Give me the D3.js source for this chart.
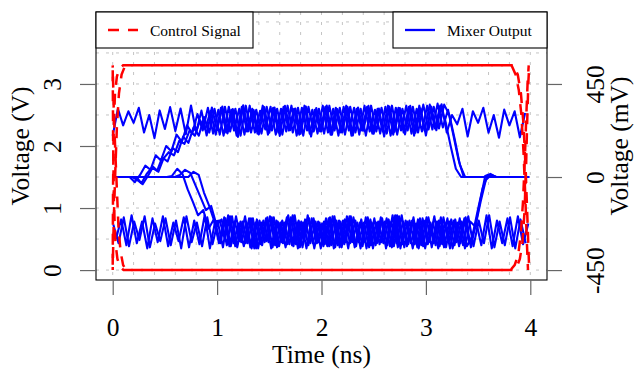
<!DOCTYPE html>
<html>
<head>
<meta charset="utf-8">
<script src="https://cdn.jsdelivr.net/npm/d3@7/dist/d3.min.js"></script>
<style>
  body { margin: 0; background: #fff; }
  svg { display: block; font-family: "Liberation Serif", "Times New Roman", serif; }
</style>
</head>
<body>
<svg id="chart" width="635" height="369"></svg>
<script>
// ---- axis ticks -------------------------------------------------------------
const timeTicks = [0, 1, 2, 3, 4];          // ns
const voltTicks = [0, 1, 2, 3];             // V (control signal)
const mvTicks = [-450, 0, 450];             // mV (mixer output)

// ---- control signal traces (time in ns, level in V) ----------------------------
const controlHighTimes1 = [0, 0.003, 0.01, 0.022, 0.04, 0.065, 0.1, 3.84, 3.88, 3.91, 3.935, 3.955, 3.97, 3.982, 3.99];
const controlHigh1      = [0, 1.3, 2.3, 2.85, 3.12, 3.25, 3.3, 3.3, 3.15, 2.85, 2.35, 1.65, 0.95, 0.35, 0];
const controlHighTimes2 = [0, 0.01, 0.025, 0.04, 0.06, 0.085, 0.12, 3.82, 3.86, 3.89, 3.915, 3.935, 3.952, 3.966, 3.978];
const controlHigh2      = [0, 0.8, 1.6, 2.3, 2.85, 3.15, 3.3, 3.3, 3.15, 2.9, 2.5, 1.9, 1.2, 0.5, 0];
const controlLowTimes1  = [0, 0.004, 0.012, 0.026, 0.045, 0.07, 0.105, 3.83, 3.87, 3.9, 3.925, 3.945, 3.96, 3.972, 3.982, 3.99];
const controlLow1       = [3.3, 2.1, 1.05, 0.45, 0.18, 0.05, 0, 0, 0.05, 0.18, 0.45, 0.95, 1.7, 2.5, 3.05, 3.3];
const controlLowTimes2  = [0, 0.01, 0.025, 0.04, 0.055, 0.075, 0.1, 0.13, 3.81, 3.85, 3.885, 3.91, 3.93, 3.948, 3.962, 3.975, 3.985];
const controlLow2       = [3.3, 2.6, 1.9, 1.3, 0.7, 0.3, 0.08, 0, 0, 0.08, 0.25, 0.6, 1.1, 1.8, 2.5, 3.05, 3.3];

// ---- mixer output traces (mV), sampled every 0.05 ns from each trace's start ----
const sampleStep = 0.05;

const mixerHigh = [
  200, 330, 250, 318, 262, 335, 215, 300, 188, 322,
  232, 338, 222, 331, 207, 346, 216, 321, 201, 336,
  226, 341, 211, 329, 194, 347, 221, 324, 206, 339,
  214, 336, 199, 344, 226, 331, 209, 341, 196, 334,
  221, 346, 204, 329, 216, 339, 201, 336, 224, 344,
  209, 331, 196, 341, 219, 334, 206, 344, 214, 331,
  201, 341, 226, 352, 215, 300, 255, 330, 196, 318,
  262, 335, 214, 300, 190, 326, 250, 318, 192, 310
];
const mixerRiseFall1 = [
  0, 0, 0, 0, -25, 10, 55, 35, 105, 80,
  150, 125, 205, 170, 250, 210, 305, 225, 335, 210,
  325, 200, 340, 225, 330, 205, 345, 215, 320, 230,
  340, 205, 330, 220, 345, 200, 335, 225, 325, 210,
  345, 215, 330, 200, 340, 225, 335, 205, 345, 220,
  325, 210, 340, 200, 335, 225, 345, 210, 330, 220,
  345, 230, 355, 240, 325, 205, 85, 0, 0, 0,
  0, 0, 0, 0, 0, 0, 0, 0, 0, 0
];
const mixerRiseFall2 = [
  0, 0, 0, 0, 0, -30, 15, 45, 30, 95,
  75, 140, 120, 195, 165, 240, 200, 290, 215, 330,
  205, 340, 220, 330, 200, 345, 215, 325, 210, 340,
  225, 330, 205, 345, 215, 335, 200, 340, 220, 330,
  210, 345, 225, 335, 205, 340, 215, 330, 200, 345,
  220, 335, 210, 345, 205, 330, 225, 340, 215, 350,
  230, 340, 235, 350, 300, 185, 60, 0, 0, 0,
  0, 0, 10, 0, 0, 0, 0, 0, 0, 0
];
const mixerRiseFall3 = [
  0, 0, 0, 0, -15, -35, 5, 50, 25, 90,
  120, 105, 175, 160, 225, 200, 275, 230, 320, 205,
  335, 215, 325, 200, 340, 220, 330, 210, 345, 205,
  335, 215, 340, 225, 330, 205, 345, 210, 325, 220,
  340, 205, 335, 215, 345, 200, 330, 225, 340, 210,
  330, 220, 345, 205, 335, 215, 340, 200, 345, 225,
  350, 235, 345, 270, 150, 40, 0, 0, 0, 0,
  0, 0, 0, 0, 0, 0, 0, 0, 0, 0
];
const mixerLow1 = [
  -230, -320, -195, -335, -215, -305, -190, -340, -225, -310,
  -200, -330, -210, -345, -190, -315, -220, -335, -195, -325,
  -215, -340, -185, -320, -225, -335, -200, -345, -210, -315,
  -190, -330, -220, -340, -195, -325, -215, -345, -200, -320,
  -225, -335, -190, -330, -210, -345, -195, -315, -220, -340,
  -200, -325, -215, -335, -185, -345, -210, -320, -225, -330,
  -195, -340, -215, -325, -200, -345, -220, -330, -190, -335,
  -210, -320, -185, -340, -215, -330, -195, -345, -205, -320
];
const mixerLow2 = [
  -300, -205, -330, -185, -320, -215, -345, -200, -315, -190,
  -335, -220, -310, -195, -340, -210, -325, -185, -345, -215,
  -320, -200, -335, -190, -315, -220, -345, -205, -330, -195,
  -340, -215, -320, -185, -335, -210, -310, -200, -345, -220,
  -325, -195, -340, -215, -315, -190, -335, -205, -345, -220,
  -320, -200, -330, -185, -340, -215, -325, -195, -345, -210,
  -315, -190, -335, -220, -345, -205, -320, -195, -340, -215,
  -330, -185, -345, -210, -320, -200, -335, -190, -325, -225
];
const mixerFallRise1 = [
  0, 0, 0, 0, 0, 0, 0, 0, 0, 0,
  0, 5, 40, 15, -60, -120, -185, -160, -250, -205,
  -320, -195, -335, -215, -310, -190, -340, -220, -325, -200,
  -345, -210, -315, -195, -330, -220, -340, -185, -320, -215,
  -335, -200, -345, -210, -325, -190, -340, -220, -315, -205,
  -330, -195, -345, -215, -320, -185, -335, -210, -340, -200,
  -325, -220, -345, -195, -315, -210, -335, -200, -320, -250,
  -120, 5, 15, 0, 0, 0, 0, 0, 0, 0
];
const mixerFallRise2 = [
  0, 0, 0, 0, 0, 0, 0, 0, 0, 0,
  0, 0, 10, 35, 20, -40, -100, -160, -140, -230,
  -205, -330, -190, -340, -215, -320, -200, -345, -210, -315,
  -195, -335, -220, -325, -185, -340, -205, -320, -215, -345,
  -200, -330, -210, -340, -190, -315, -220, -335, -195, -345,
  -215, -320, -205, -335, -190, -340, -210, -325, -200, -345,
  -220, -330, -195, -340, -205, -315, -215, -335, -290, -170,
  -55, 10, 0, 0, 0, 0, 0, 0, 0, 0
];
const mixerFallRise3 = [
  0, 0, 0, 0, 0, 0, 0, 0, 0, 0,
  0, 0, 0, 0, 0, 25, 10, -75, -140, -215,
  -210, -300, -190, -335, -215, -320, -200, -345, -220, -310,
  -195, -340, -210, -325, -185, -345, -220, -330, -200, -315,
  -215, -335, -190, -340, -205, -320, -210, -345, -195, -330,
  -220, -315, -200, -340, -185, -325, -215, -345, -205, -335,
  -195, -320, -210, -340, -215, -330, -200, -345, -215, -240,
  -120, -15, 10, 0, 0, 0, 0, 0, 0, 0
];
// start time (ns) of each sampled trace
const mixerStarts = [0.000, 0.012, 0.025, 0.037, 0.006, 0.031, 0.018, 0.043, 0.024];

// ---- layout ---------------------------------------------------------------------
const box = { left: 96, right: 547, top: 12, bottom: 280 };
const x = d3.scaleLinear().domain([-0.16, 4.16]).range([box.left, box.right]);
const yV = d3.scaleLinear().domain([-0.16, 4.16]).range([box.bottom, box.top]);
// right axis: 0 mV sits at 1.5 V, 450 mV spans 1.5 V
const ymV = d3.scaleLinear().domain([-498, 798]).range([box.bottom, box.top]);

const svg = d3.select("#chart");
const FONT = 25.5;
const plain = d => String(d);   // ASCII hyphen for negative labels

// grid
const grid = svg.append("g").attr("stroke", "#c4c4c4").attr("stroke-width", 1)
  .attr("stroke-dasharray", "3,7");
grid.selectAll("line.v").data(x.ticks(20)).join("line")
  .attr("x1", d => x(d)).attr("x2", d => x(d))
  .attr("y1", box.top).attr("y2", box.bottom);
grid.selectAll("line.h").data(yV.ticks(8)).join("line")
  .attr("x1", box.left).attr("x2", box.right)
  .attr("y1", d => yV(d)).attr("y2", d => yV(d));

// mixer output
const mixerSeries = [mixerHigh, mixerRiseFall1, mixerRiseFall2, mixerRiseFall3,
  mixerLow1, mixerLow2, mixerFallRise1, mixerFallRise2, mixerFallRise3];
const mixerLine = d3.line().x(d => x(d[0])).y(d => ymV(d[1]));
const blue = svg.append("g");
mixerSeries.forEach((vals, k) => {
  const pts = vals.map((v, i) => [mixerStarts[k] + i * sampleStep, v]);
  blue.append("path").attr("d", mixerLine(pts))
    .attr("fill", "none").attr("stroke", "#0000ff").attr("stroke-width", 2.1)
    .attr("stroke-linejoin", "round");
});

// control signal
const DASH = [11, 9];
const period = DASH[0] + DASH[1];
function dashPhase(pix, atX, phase) {
  // arc length from the path start to screen x = atX, so overlapping dashed
  // traces interleave along the flat stretch
  let L = 0;
  for (let i = 1; i < pix.length; i++) {
    const [ax, ay] = pix[i - 1], [bx, by] = pix[i];
    if (bx >= atX) {
      const f = (atX - ax) / (bx - ax);
      L += Math.hypot(atX - ax, f * (by - ay));
      break;
    }
    L += Math.hypot(bx - ax, by - ay);
  }
  return (((phase - L) % period) + period) % period;
}
const controlSets = [
  [controlHighTimes1, controlHigh1, 0],
  [controlHighTimes2, controlHigh2, 10],
  [controlLowTimes1, controlLow1, 0],
  [controlLowTimes2, controlLow2, 10]
];
const red = svg.append("g");
controlSets.forEach(([ts, vs, phase]) => {
  const pix = ts.map((t, i) => [x(t), yV(vs[i])]);
  red.append("path").attr("d", d3.line()(pix))
    .attr("fill", "none").attr("stroke", "#ff0000").attr("stroke-width", 2.5)
    .attr("stroke-dasharray", DASH.join(","))
    .attr("stroke-dashoffset", dashPhase(pix, x(2), phase));
});

// frame
svg.append("rect").attr("x", box.left).attr("y", box.top)
  .attr("width", box.right - box.left).attr("height", box.bottom - box.top)
  .attr("fill", "none").attr("stroke", "#000").attr("stroke-width", 1.1);

// axes
function styleAxis(g) {
  g.select(".domain").remove();
  g.selectAll(".tick line").attr("stroke", "#666").attr("stroke-width", 1.2);
  g.selectAll(".tick text").attr("fill", "#000").style("font-size", FONT + "px")
    .style("font-family", "'Liberation Serif', 'Times New Roman', serif");
}
const axB = svg.append("g").attr("transform", `translate(0,${box.bottom})`)
  .call(d3.axisBottom(x).tickValues(timeTicks).tickSize(15).tickFormat(plain));
styleAxis(axB);
axB.selectAll(".tick text").attr("y", 47).attr("dy", "0.35em");

const axL = svg.append("g").attr("transform", `translate(${box.left},0)`)
  .call(d3.axisLeft(yV).tickValues(voltTicks).tickSize(16).tickFormat(plain));
styleAxis(axL);
axL.selectAll(".tick text").attr("x", 0).attr("y", 0).attr("dy", "0.35em")
  .attr("text-anchor", "middle").attr("transform", "translate(-44,0) rotate(-90)");

const axR = svg.append("g").attr("transform", `translate(${box.right},0)`)
  .call(d3.axisRight(ymV).tickValues(mvTicks).tickSize(15).tickFormat(plain));
styleAxis(axR);
axR.selectAll(".tick text").attr("x", 0).attr("y", 0).attr("dy", "0.35em")
  .attr("text-anchor", "middle").attr("transform", "translate(48,0) rotate(-90)");

// axis titles
const midY = (box.top + box.bottom) / 2;
svg.append("text").attr("x", (box.left + box.right) / 2).attr("y", 363)
  .attr("text-anchor", "middle").style("font-size", FONT + "px").text("Time (ns)");
svg.append("text").attr("transform", `translate(20,${midY}) rotate(-90)`)
  .attr("dy", "0.35em").attr("text-anchor", "middle").style("font-size", FONT + "px")
  .text("Voltage (V)");
svg.append("text").attr("transform", `translate(619,${midY}) rotate(-90)`)
  .attr("dy", "0.35em").attr("text-anchor", "middle").style("font-size", FONT + "px")
  .text("Voltage (mV)");

// legends
function legend(x0, x1, color, dash, label) {
  const g = svg.append("g");
  g.append("rect").attr("x", x0).attr("y", box.top).attr("width", x1 - x0).attr("height", 36)
    .attr("fill", "#fff").attr("stroke", "#000").attr("stroke-width", 1.1);
  g.append("line").attr("x1", x0 + 12).attr("x2", x0 + 42).attr("y1", 30).attr("y2", 30)
    .attr("stroke", color).attr("stroke-width", 2.3).attr("stroke-dasharray", dash);
  g.append("text").attr("x", x0 + 54).attr("y", 35.5).style("font-size", "15.5px").text(label);
}
legend(96, 253, "#ff0000", DASH.join(","), "Control Signal");
legend(393, 547, "#0000ff", null, "Mixer Output");
</script>
</body>
</html>
